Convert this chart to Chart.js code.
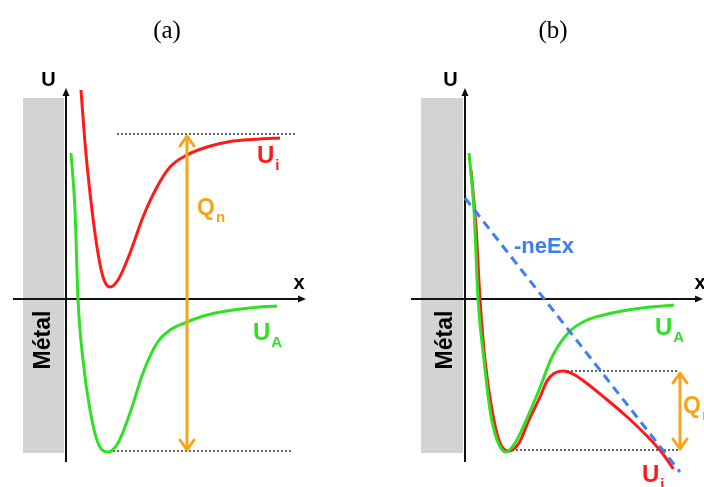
<!DOCTYPE html>
<html>
<head>
<meta charset="utf-8">
<script src="https://cdn.jsdelivr.net/npm/chart.js@4.4.1/dist/chart.umd.min.js"></script>
<style>
  body { margin: 0; background: #fff; width: 704px; height: 487px; overflow: hidden; position: relative; }
  canvas { position: absolute; top: 0; }
  #panelA { left: 0; }
  #panelB { left: 352px; }
</style>
</head>
<body>
<canvas id="panelA" width="352" height="487"></canvas>
<canvas id="panelB" width="352" height="487"></canvas>
<script>
// --- Données (unités arbitraires, origine au croisement des axes) ---

// (a) ion Ui et atome UA
const xUiA = [0.75, 0.95, 1.2, 1.55, 1.85, 2.2, 2.6, 3.2, 3.85, 4.55, 5.2, 6.05, 7.05, 8.35, 9.7, 10.7];
const uUiA = [10.45, 7.8, 5.3, 2.6, 1.1, 0.6, 0.95, 2.3, 4.1, 5.6, 6.6, 7.2, 7.6, 7.9, 8.0, 8.05];
const xUaA = [0.25, 0.45, 0.6, 0.85, 1.2, 1.6, 2.1, 2.6, 3.2, 3.85, 4.55, 5.2, 6.05, 7.05, 8.35, 9.7, 10.55];
const uUaA = [7.3, 4.45, 0, -3.05, -5.55, -7.2, -7.65, -7.2, -5.7, -3.7, -2.2, -1.55, -1.15, -0.8, -0.55, -0.4, -0.35];
const niveauxA = [8.25, -7.6];        // pointillés haut / bas
const xPointillesA = [[2.55, 11.55], [2.35, 11.3]];
const xQnA = 6.05;
const uQnA = [8.15, -7.55];

// (b) avec champ électrique
const xUaB = [0.2, 0.45, 0.65, 0.95, 1.25, 1.6, 2.05, 2.5, 3.0, 3.7, 4.35, 5.2, 6.0, 7.35, 8.85, 10.45];
const uUaB = [7.3, 4.45, 0, -3.05, -5.55, -7.05, -7.65, -7.2, -6.2, -4.55, -2.9, -1.65, -1.1, -0.7, -0.45, -0.3];
const xUiB = [0.3, 0.55, 0.75, 1.0, 1.35, 1.75, 2.2, 2.7, 3.2, 3.75, 4.1, 4.45, 4.9, 5.4, 6.0, 7.0, 8.0, 9.0, 9.9, 10.42];
const uUiB = [6.45, 3.6, 0, -3.05, -5.55, -7.2, -7.6, -7.2, -6.05, -4.9, -4.1, -3.72, -3.6, -3.75, -4.15, -4.95, -5.8, -6.75, -7.75, -8.5];
const xNeEx = [0, 10.75];
const uNeEx = [5.05, -8.65];
const niveauxB = [-3.6, -7.55];
const xPointillesB = [[4.9, 10.7], [2.35, 10.7]];
const xQnB = 10.75;
const uQnB = [-3.7, -7.5];

const ROUGE = '#ff1a1a';
const VERT = '#2fe024';
const ORANGE = '#f7a418';
const BLEU = '#3d7ef0';
const GRIS = '#d3d3d3';

const pts = (xs, ys) => xs.map((v, i) => ({ x: v, y: ys[i] }));

function courbe(xs, ys, color) {
    return {
        data: pts(xs, ys),
        borderColor: color,
        borderWidth: 3,
        pointRadius: 0,
        showLine: true,
        cubicInterpolationMode: 'monotone',
        fill: false
    };
}

function droite(xs, ys, color) {
    return {
        data: pts(xs, ys),
        borderColor: color,
        borderWidth: 3,
        borderDash: [9, 6],
        pointRadius: 0,
        showLine: true
    };
}

function pointilles(xr, u) {
    return {
        data: [{ x: xr[0], y: u }, { x: xr[1], y: u }],
        borderColor: '#333',
        borderWidth: 1.5,
        borderDash: [2, 2],
        pointRadius: 0,
        showLine: true
    };
}

function fleche(xv, ur) {
    return {
        data: [{ x: xv, y: ur[0] }, { x: xv, y: ur[1] }],
        borderColor: ORANGE,
        borderWidth: 3,
        pointRadius: 0,
        showLine: true
    };
}

// texte avec indice
function texteIndice(ctx, px, py, main, sub, color, size, subSize) {
    ctx.fillStyle = color;
    ctx.textAlign = 'left';
    ctx.textBaseline = 'alphabetic';
    ctx.font = `bold ${size}px "Liberation Sans", Arial, sans-serif`;
    ctx.fillText(main, px, py);
    const w = ctx.measureText(main).width;
    if (sub) {
        ctx.font = `bold ${subSize}px "Liberation Sans", Arial, sans-serif`;
        ctx.fillText(sub, px + w + 1, py + 7);
    }
}

const decor = {
    id: 'decor',
    beforeDatasetsDraw(chart, args, o) {
        const { ctx } = chart;
        const X = v => chart.scales.x.getPixelForValue(v);
        const Y = v => chart.scales.y.getPixelForValue(v);
        ctx.save();
        // bloc métal
        ctx.fillStyle = GRIS;
        ctx.fillRect(X(o.metal[0]), Y(o.metal[2]), X(o.metal[1]) - X(o.metal[0]), Y(o.metal[3]) - Y(o.metal[2]));
        // axes
        ctx.strokeStyle = '#111';
        ctx.fillStyle = '#111';
        ctx.lineWidth = 2;
        ctx.beginPath();
        ctx.moveTo(X(0), Y(o.axeY[0]));
        ctx.lineTo(X(0), Y(o.axeY[1]));
        ctx.moveTo(X(o.axeX[0]), Y(0));
        ctx.lineTo(X(o.axeX[1]), Y(0));
        ctx.stroke();
        // pointes de flèches
        const tx = X(0), ty = Y(o.axeY[1]);
        ctx.beginPath();
        ctx.moveTo(tx, ty - 4);
        ctx.lineTo(tx - 3.5, ty + 4);
        ctx.lineTo(tx + 3.5, ty + 4);
        ctx.closePath();
        ctx.fill();
        const rx = X(o.axeX[1]), ry = Y(0);
        ctx.beginPath();
        ctx.moveTo(rx + 4, ry);
        ctx.lineTo(rx - 4, ry - 3.5);
        ctx.lineTo(rx - 4, ry + 3.5);
        ctx.closePath();
        ctx.fill();
        ctx.restore();
    },
    afterDatasetsDraw(chart, args, o) {
        const { ctx } = chart;
        const X = v => chart.scales.x.getPixelForValue(v);
        const Y = v => chart.scales.y.getPixelForValue(v);
        ctx.save();
        // flèche double orange
        ctx.strokeStyle = ORANGE;
        ctx.lineWidth = 3;
        ctx.lineCap = 'round';
        ctx.lineJoin = 'round';
        const fx = X(o.fleche.x);
        [[Y(o.fleche.u[0]), 1], [Y(o.fleche.u[1]), -1]].forEach(([fy, s]) => {
            ctx.beginPath();
            ctx.moveTo(fx - 7, fy + s * 10);
            ctx.lineTo(fx, fy);
            ctx.lineTo(fx + 7, fy + s * 10);
            ctx.stroke();
        });
        // titre (a)/(b)
        ctx.fillStyle = '#000';
        ctx.font = '25px "Liberation Serif", "Times New Roman", serif';
        ctx.textAlign = 'center';
        ctx.textBaseline = 'middle';
        ctx.fillText(o.titre.t, X(o.titre.x), Y(o.titre.y));
        // U et x
        ctx.font = 'bold 20px "Liberation Sans", Arial, sans-serif';
        ctx.fillText('U', X(o.lblU[0]), Y(o.lblU[1]));
        ctx.fillText('x', X(o.lblX[0]), Y(o.lblX[1]));
        // Métal
        ctx.save();
        ctx.translate(X(o.lblMetal[0]), Y(o.lblMetal[1]));
        ctx.rotate(-Math.PI / 2);
        ctx.font = 'bold 23px "Liberation Sans", Arial, sans-serif';
        ctx.fillText('Métal', 0, 0);
        ctx.restore();
        // étiquettes des courbes
        o.etiquettes.forEach(e => {
            texteIndice(ctx, X(e.x), Y(e.y), e.main, e.sub, e.color, e.size || 24, 15);
        });
        ctx.restore();
    }
};

function options(xmin, xmax, deco) {
    return {
        responsive: false,
        animation: false,
        layout: { padding: 0 },
        scales: {
            x: { type: 'linear', display: false, min: xmin, max: xmax },
            y: { type: 'linear', display: false, min: -9.4, max: 14.95 }
        },
        plugins: {
            legend: { display: false },
            tooltip: { enabled: false },
            decor: deco
        }
    };
}

new Chart(document.getElementById('panelA'), {
    type: 'scatter',
    data: {
        datasets: [
            fleche(xQnA, uQnA),
            courbe(xUiA, uUiA, ROUGE),
            courbe(xUaA, uUaA, VERT),
            pointilles(xPointillesA[0], niveauxA[0]),
            pointilles(xPointillesA[1], niveauxA[1])
        ]
    },
    options: options(-3.3, 14.3, {
        metal: [-2.15, -0.1, 10.05, -7.7],
        axeY: [-8.15, 10.35],
        axeX: [-2.65, 11.8],
        fleche: { x: xQnA, u: uQnA },
        titre: { t: '(a)', x: 5.05, y: 13.4 },
        lblU: [-0.875, 10.95],
        lblX: [11.65, 0.8],
        lblMetal: [-1.1, -2.05],
        etiquettes: [
            { main: 'U', sub: 'i', x: 9.55, y: 6.8, color: ROUGE },
            { main: 'U', sub: 'A', x: 9.35, y: -2.05, color: VERT },
            { main: 'Q', sub: 'n', x: 6.55, y: 4.2, color: ORANGE, size: 23 }
        ]
    }),
    plugins: [decor]
});

new Chart(document.getElementById('panelB'), {
    type: 'scatter',
    data: {
        datasets: [
            fleche(xQnB, uQnB),
            droite(xNeEx, uNeEx, BLEU),
            courbe(xUaB, uUaB, VERT),
            courbe(xUiB, uUiB, ROUGE),
            pointilles(xPointillesB[0], niveauxB[0]),
            pointilles(xPointillesB[1], niveauxB[1])
        ]
    },
    options: options(-5.65, 11.95, {
        metal: [-2.2, -0.1, 10.05, -7.7],
        axeY: [-8.15, 10.35],
        axeX: [-2.7, 11.7],
        fleche: { x: xQnB, u: uQnB },
        titre: { t: '(b)', x: 4.4, y: 13.4 },
        lblU: [-0.725, 10.95],
        lblX: [11.75, 0.8],
        lblMetal: [-0.975, -2.05],
        etiquettes: [
            { main: '-neEx', sub: '', x: 2.45, y: 2.3, color: BLEU, size: 22 },
            { main: 'U', sub: 'A', x: 9.5, y: -1.8, color: VERT },
            { main: 'U', sub: 'i', x: 8.85, y: -9.15, color: ROUGE },
            { main: 'Q', sub: 'n', x: 10.9, y: -5.7, color: ORANGE, size: 23 }
        ]
    }),
    plugins: [decor]
});
</script>
</body>
</html>
